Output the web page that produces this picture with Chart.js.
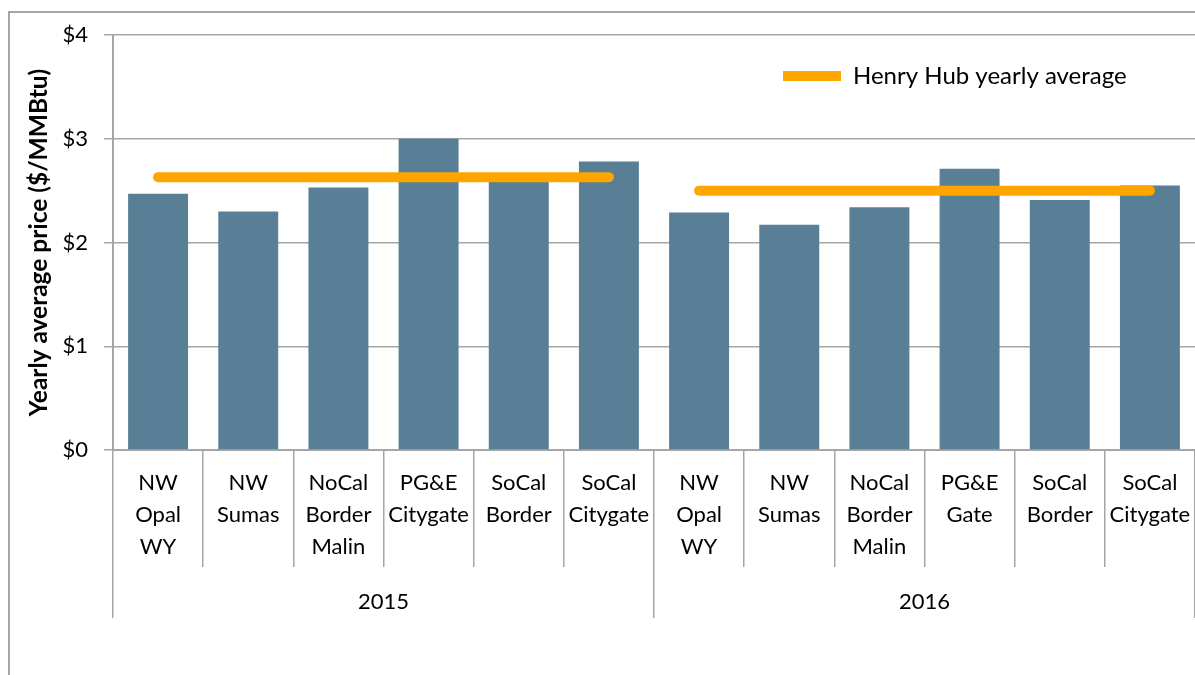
<!DOCTYPE html>
<html>
<head>
<meta charset="utf-8">
<script src="https://cdn.jsdelivr.net/npm/chart.js"></script>
<style>
  html, body { margin: 0; padding: 0; background: #fff; }
  #wrap { position: relative; width: 1195px; height: 675px; overflow: hidden; }
  #frame { position: absolute; left: 8px; top: 11px; width: 1200px; height: 700px;
           border-left: 2px solid #a6a6a6; border-top: 2px solid #a6a6a6; }
  #chart { position: absolute; left: 0; top: 0; }
</style>
</head>
<body>
<div id="wrap">
  <div id="frame"></div>
  <canvas id="chart" width="1195" height="675"></canvas>
</div>
<script>
// trading hubs, two years side by side
var hubLabels = [
  ['NW', 'Opal', 'WY'], ['NW', 'Sumas'], ['NoCal', 'Border', 'Malin'],
  ['PG&E', 'Citygate'], ['SoCal', 'Border'], ['SoCal', 'Citygate'],
  ['NW', 'Opal', 'WY'], ['NW', 'Sumas'], ['NoCal', 'Border', 'Malin'],
  ['PG&E', 'Gate'], ['SoCal', 'Border'], ['SoCal', 'Citygate']
];
var years = ['2015', '2016'];
var hubPrices = [2.47, 2.30, 2.53, 3.00, 2.60, 2.78, 2.29, 2.17, 2.34, 2.71, 2.41, 2.55];
var henryHub = [2.63, 2.50];
var yTicks = [0, 1, 2, 3, 4];

var perYear = hubLabels.length / years.length;

// Henry Hub line only across its own year
function henryLine(y) {
  return hubLabels.map(function (_, i) {
    return Math.floor(i / perYear) === y ? henryHub[y] : null;
  });
}

var gridGray = '#a6a6a6';
Chart.defaults.color = '#000';
Chart.defaults.font.family = 'Lato, "Open Sans", sans-serif';

// legend sits inside the plot, top right, like the original
var legendSpot = {
  id: 'legendSpot',
  afterLayout: function (chart) {
    var l = chart.legend;
    if (!l || !l.lineWidths) return;
    var h = l.bottom - l.top;
    l.left = 585;
    l.right = 783 + l.lineWidths[0];
    l.top = 60;
    l.bottom = l.top + h;
  }
};

var ctx = document.getElementById('chart').getContext('2d');
var chart = new Chart(ctx, {
  type: 'bar',
  data: {
    labels: hubLabels,
    datasets: [{
      type: 'line',
      label: 'Henry Hub yearly average',
      data: henryLine(0),
      borderColor: '#ffa500',
      backgroundColor: '#ffa500',
      borderWidth: 10,
      borderCapStyle: 'round',
      pointRadius: 0,
      pointHoverRadius: 0,
      pointStyle: 'line',
      spanGaps: false
    }, {
      type: 'line',
      label: 'Henry Hub yearly average 2016',
      data: henryLine(1),
      borderColor: '#ffa500',
      backgroundColor: '#ffa500',
      borderWidth: 10,
      borderCapStyle: 'round',
      pointRadius: 0,
      pointHoverRadius: 0,
      spanGaps: false
    }, {
      label: 'Yearly average price',
      data: hubPrices,
      backgroundColor: '#587f96',
      borderWidth: 0,
      categoryPercentage: 1,
      barPercentage: 0.665
    }]
  },
  options: {
    responsive: false,
    animation: false,
    layout: { padding: { top: -3, left: 0, right: 0, bottom: 0 } },
    plugins: {
      tooltip: { enabled: false },
      legend: {
        position: 'top',
        align: 'end',
        labels: {
          usePointStyle: true,
          pointStyleWidth: 58,
          boxHeight: 10,
          padding: 4,
          font: { size: 24 },
          filter: function (item) { return item.datasetIndex === 0; }
        }
      }
    },
    scales: {
      x: {
        type: 'category',
        offset: true,
        grid: { offset: true, drawOnChartArea: false, tickLength: 117, color: gridGray, lineWidth: 1.5 },
        border: { display: true, color: gridGray, width: 2 },
        ticks: {
          autoSkip: false,
          maxRotation: 0,
          padding: -100,
          font: { size: 22, lineHeight: 1.45 }
        },
        afterFit: function (s) { s.height = 117; s.paddingLeft = 0; s.paddingRight = 0; }
      },
      x2: {
        type: 'category',
        position: 'bottom',
        labels: years,
        offset: true,
        grid: { offset: true, drawOnChartArea: false, tickLength: 51, color: gridGray, lineWidth: 1.5 },
        border: { display: false },
        ticks: { padding: -32, maxRotation: 0, font: { size: 22, lineHeight: 1.45 } },
        afterFit: function (s) { s.height = 108; s.paddingLeft = 0; s.paddingRight = 0; }
      },
      y: {
        min: 0,
        max: 4,
        afterBuildTicks: function (s) { s.ticks = yTicks.map(function (v) { return { value: v }; }); },
        grid: { color: gridGray, lineWidth: 1.5, tickLength: 9 },
        border: { display: true, color: gridGray, width: 2 },
        ticks: {
          padding: 16,
          font: { size: 22 },
          callback: function (v) { return '$' + v; }
        },
        title: {
          display: true,
          text: 'Yearly average price ($/MMBtu)',
          font: { size: 24.5, weight: 'bold' },
          padding: { top: 24, bottom: 0 }
        },
        afterFit: function (s) { s.width = 113; }
      }
    }
  },
  plugins: [legendSpot]
});
</script>
</body>
</html>
